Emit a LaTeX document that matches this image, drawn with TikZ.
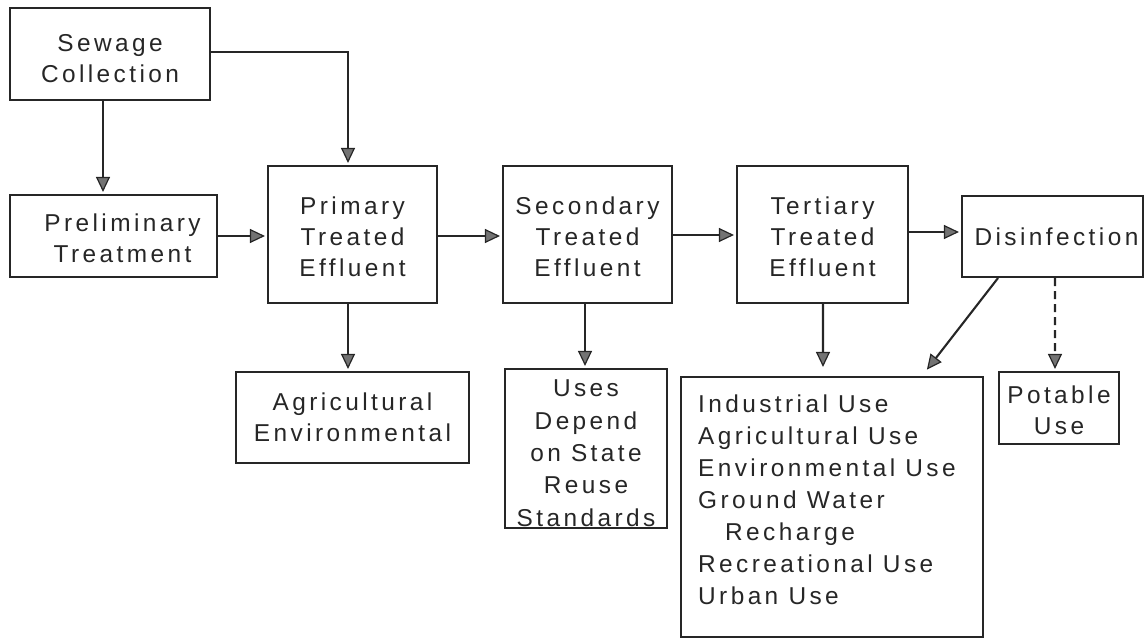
\documentclass[tikz,border=0pt]{standalone}
\usepackage{fontspec}
\setmainfont{Liberation Sans}[LetterSpace=14]
\usetikzlibrary{arrows.meta,calc}
\tikzset{
  box/.style={draw=black!85, line width=2.1bp, inner sep=0pt, align=center,
    font=\fontsize{24.5}{31}\selectfont, text=black!85},
  txt/.style={inner sep=0pt, align=left, font=\fontsize{24.5}{32}\selectfont, text=black!85},
  arr/.style={draw=black!85, line width=2.1bp,
    -{Triangle[length=15bp,width=14bp,fill=black!55,line width=1.2bp]}, shorten >=2bp},
  darr/.style={arr, dash pattern=on 8bp off 5bp}
}
\newcommand{\up}[1]{\rule{0pt}{#1bp}}
\begin{document}
\begin{tikzpicture}[x=1bp,y=-1bp]
\useasboundingbox (0,0) rectangle (1145,639);
\node[box, minimum width=200bp, minimum height=92bp] (sew) at (110,54) {\up{27}Sewage\\Collection};
\node[box, minimum width=207bp, minimum height=82bp] (pre) at (113.5,236) {\up{22.5}\hspace*{18bp}Preliminary\\\hspace*{18bp}Treatment};
\node[box, minimum width=169bp, minimum height=137bp] (pri) at (352.5,234.5) {\up{23}Primary\\Treated\\Effluent};
\node[box, minimum width=169bp, minimum height=137bp] (sec) at (587.5,234.5) {\up{23}Secondary\\Treated\\Effluent};
\node[box, minimum width=171bp, minimum height=137bp] (ter) at (822.5,234.5) {\up{23}Tertiary\\Treated\\Effluent};
\node[box, minimum width=181bp, minimum height=81bp] (dis) at (1052.5,236.5) {\hspace*{8bp}Disinfection};
\node[box, minimum width=233bp, minimum height=91bp] (agr) at (352.5,417.5) {Agricultural\\Environmental};
\node[box, minimum width=162bp, minimum height=159bp, font=\fontsize{24.5}{32.5}\selectfont] (uses) at (586,448.5) {\up{26}Uses\\Depend\\on State\\Reuse\\Standards};
\node[box, minimum width=302bp, minimum height=260bp] (use) at (832,507) {};
\node[txt, anchor=north west] (usetxt) at (698,395) {Industrial Use\\Agricultural Use\\Environmental Use\\Ground Water\\\hspace*{27bp}Recharge\\Recreational Use\\Urban Use};
\node[box, minimum width=120bp, minimum height=72bp] (pot) at (1059,408) {\up{22.5}Potable\\Use};

\draw[arr] ($(sew.south)+(-7,0)$) -- ($(pre.north)+(-10.5,0)$);
\draw[arr] ($(sew.east)+(0,-2)$) -| ($(pri.north)+(-4.5,0)$);
\draw[arr] (pre.east) -- (pre.east -| pri.west);
\draw[arr] ($(pri.east)+(0,1.5)$) -- ($(sec.west)+(0,1.5)$);
\draw[arr] ($(sec.east)+(0,0.5)$) -- ($(ter.west)+(0,0.5)$);
\draw[arr] ($(ter.east)+(0,-2.5)$) -- ($(dis.west)+(0,-4.5)$);
\draw[arr] ($(pri.south)+(-4.5,0)$) -- ($(agr.north)+(-4.5,0)$);
\draw[arr] ($(sec.south)+(-2.5,0)$) -- ($(uses.north)+(-1,0)$);
\draw[arr, shorten >=9bp] ($(ter.south)+(0.5,0)$) -- ($(use.north)+(-9,0)$);
\draw[arr, shorten >=8bp] ($(dis.south)+(-54.5,0)$) -- ($(use.north)+(90,0)$);
\draw[darr] ($(dis.south)+(2.5,0)$) -- ($(pot.north)+(-4,0)$);
\end{tikzpicture}
\end{document}
